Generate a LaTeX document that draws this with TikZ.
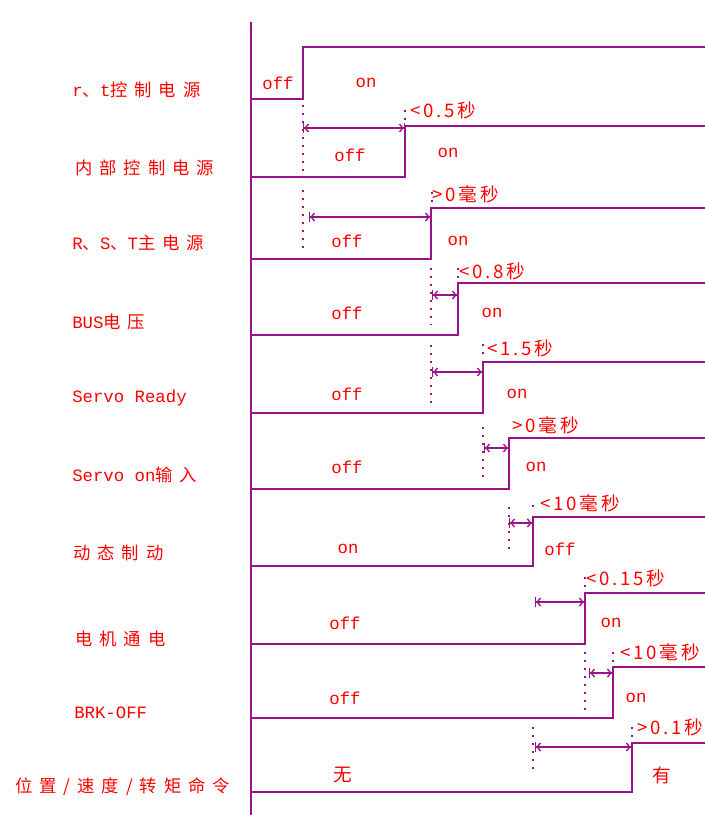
\documentclass[tikz,border=0pt]{standalone}
\usepackage{fontspec}
\setmainfont{Liberation Mono}
\newfontfamily\zhfont[LetterSpace=40]{Noto Sans CJK SC}
\newfontfamily\zhtime[LetterSpace=15]{Noto Sans CJK SC}
\newcommand{\zh}[1]{{\zhfont #1}}
\usetikzlibrary{arrows.meta}
\definecolor{wavecol}{RGB}{153,20,136}
\definecolor{txtcol}{RGB}{255,0,0}

\begin{document}
\begin{tikzpicture}[x=0.75pt, y=-0.75pt,
  wave/.style={draw=wavecol, line width=1.5pt},
  guide/.style={draw=wavecol, line width=1.5pt, dash pattern=on 1.5pt off 4.5pt},
  gap/.style={draw=wavecol, line width=1pt, {Bar[width=7pt]Straight Barb[length=2.5pt,width=6pt]}-{Straight Barb[length=2.5pt,width=6pt]Bar[width=7pt]}},
  sig/.style={anchor=west, inner sep=0pt, text=txtcol, font=\fontsize{13}{15}\selectfont},
  lvl/.style={inner sep=0pt, text=txtcol, font=\fontsize{13}{15}\selectfont},
  tim/.style={anchor=west, inner sep=0pt, text=txtcol, font=\zhtime\fontsize{14}{16}\selectfont}]
\useasboundingbox (0,0) rectangle (705,815);
\draw[wave] (251,22) -- (251,815);
% signal names
\node[sig] (s1) at (72,90) {r\zh{、}t\zh{控制电源}};
\node[sig] (s2) at (75,168) {\zh{内部控制电源}};
\node[sig] (s3) at (72,243) {R\zh{、}S\zh{、}T\zh{主电源}};
\node[sig] (s4) at (72,322) {BUS\zh{电压}};
\node[sig] (s5) at (72,398) {Servo Ready};
\node[sig] (s6) at (72,475) {Servo on\zh{输入}};
\node[sig] (s7) at (73,553) {\zh{动态制动}};
\node[sig] (s8) at (75,639) {\zh{电机通电}};
\node[sig] (s9) at (74,713) {BRK-OFF};
\node[sig] (s10) at (15,787) {\zh{位置/速度/转矩命令}};
% waveforms
\draw[wave] (251,99) -| (303,47) -- (705,47);
\draw[wave] (251,177) -| (405,126) -- (705,126);
\draw[wave] (251,259) -| (431,208) -- (705,208);
\draw[wave] (251,335) -| (458,283) -- (705,283);
\draw[wave] (251,413) -| (483,362) -- (705,362);
\draw[wave] (251,489) -| (509,438) -- (705,438);
\draw[wave] (251,566) -| (533,517) -- (705,517);
\draw[wave] (251,644) -| (585,593) -- (705,593);
\draw[wave] (251,718) -| (613,667) -- (705,667);
\draw[wave] (251,792) -| (632,743) -- (705,743);
% levels
\node[lvl] (l1a) at (278,83) {off}; \node[lvl] (l1b) at (366,83) {on};
\node[lvl] (l2a) at (350,155) {off}; \node[lvl] (l2b) at (448,153) {on};
\node[lvl] (l3a) at (347,241) {off}; \node[lvl] (l3b) at (458,241) {on};
\node[lvl] (l4a) at (347,313) {off}; \node[lvl] (l4b) at (492,313) {on};
\node[lvl] (l5a) at (347,394) {off}; \node[lvl] (l5b) at (517,394) {on};
\node[lvl] (l6a) at (347,467) {off}; \node[lvl] (l6b) at (536,467) {on};
\node[lvl] (l7a) at (348,549) {on}; \node[lvl] (l7b) at (560,549) {off};
\node[lvl] (l8a) at (345,623) {off}; \node[lvl] (l8b) at (611,623) {on};
\node[lvl] (l9a) at (345,698) {off}; \node[lvl] (l9b) at (636,698) {on};
\node[lvl,font=\zhtime\fontsize{14}{16}\selectfont] (l10a) at (343,775) {无}; \node[lvl,font=\zhtime\fontsize{14}{16}\selectfont] (l10b) at (662,775) {有};
% dotted guides
\draw[guide] (303,105) -- (303,172); \draw[guide] (405,110) -- (405,124);
\draw[guide] (303,190) -- (303,254); \draw[guide] (432,192) -- (432,204);
\draw[guide] (431,268) -- (431,325); \draw[guide] (458,268) -- (458,280);
\draw[guide] (431,345) -- (431,408); \draw[guide] (483,344) -- (483,358);
\draw[guide] (483,427) -- (483,480);
\draw[guide] (509,507) -- (509,555); \draw[guide] (533,505) -- (533,512);
\draw[guide] (585,577) -- (585,589);
\draw[guide] (585,652) -- (585,710); \draw[guide] (613,652) -- (613,662);
\draw[guide] (533,727) -- (533,773); \draw[guide] (632,727) -- (632,738);
% delays
\coordinate (g1a) at (303,128); \coordinate (g1b) at (405,128);
\coordinate (g2a) at (309,217); \coordinate (g2b) at (431,217);
\coordinate (g3a) at (432,295); \coordinate (g3b) at (458,295);
\coordinate (g4a) at (432,372); \coordinate (g4b) at (483,372);
\coordinate (g5a) at (484,448); \coordinate (g5b) at (509,448);
\coordinate (g6a) at (509,523); \coordinate (g6b) at (533,523);
\coordinate (g7a) at (535,602); \coordinate (g7b) at (585,602);
\coordinate (g8a) at (589,673); \coordinate (g8b) at (613,673);
\coordinate (g9a) at (535,747); \coordinate (g9b) at (632,747);
\draw[gap] (g1a) -- (g1b); \draw[gap] (g2a) -- (g2b); \draw[gap] (g3a) -- (g3b);
\draw[gap] (g4a) -- (g4b); \draw[gap] (g5a) -- (g5b); \draw[gap] (g6a) -- (g6b);
\draw[gap] (g7a) -- (g7b); \draw[gap] (g8a) -- (g8b); \draw[gap] (g9a) -- (g9b);
\node[tim] (t1) at (410,110) {<0.5秒};
\node[tim] (t2) at (432,194) {>0毫秒};
\node[tim] (t3) at (459,271) {<0.8秒};
\node[tim] (t4) at (487,348) {<1.5秒};
\node[tim] (t5) at (512,425) {>0毫秒};
\node[tim] (t6) at (540,503) {<10毫秒};
\node[tim] (t7) at (586,578) {<0.15秒};
\node[tim] (t8) at (620,652) {<10毫秒};
\node[tim] (t9) at (637,727) {>0.1秒};
\end{tikzpicture}
\end{document}
